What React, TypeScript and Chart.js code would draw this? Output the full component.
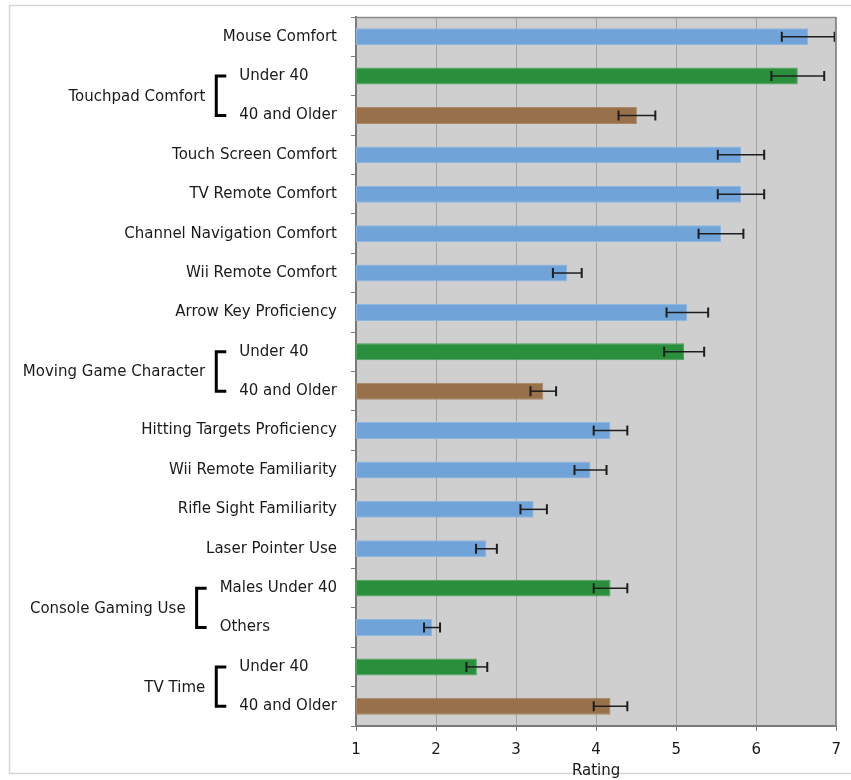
import { useEffect, useRef } from 'react';
import { Chart, registerables } from 'chart.js';

Chart.register(...registerables);

const categories = [
  'Mouse Comfort',
  'Under 40',
  '40 and Older',
  'Touch Screen Comfort',
  'TV Remote Comfort',
  'Channel Navigation Comfort',
  'Wii Remote Comfort',
  'Arrow Key Proficiency',
  'Under 40',
  '40 and Older',
  'Hitting Targets Proficiency',
  'Wii Remote Familiarity',
  'Rifle Sight Familiarity',
  'Laser Pointer Use',
  'Males Under 40',
  'Others',
  'Under 40',
  '40 and Older',
];

const groups = [
  '',
  'Touchpad Comfort',
  'Touchpad Comfort',
  '',
  '',
  '',
  '',
  '',
  'Moving Game Character',
  'Moving Game Character',
  '',
  '',
  '',
  '',
  'Console Gaming Use',
  'Console Gaming Use',
  'TV Time',
  'TV Time',
];

const cohorts = [
  'all', 'under40', 'older', 'all', 'all', 'all', 'all', 'all', 'under40', 'older',
  'all', 'all', 'all', 'all', 'under40', 'all', 'under40', 'older',
];

const ratings = [6.65, 6.52, 4.51, 5.81, 5.81, 5.56, 3.64, 5.14, 5.1, 3.34, 4.18, 3.93, 3.22, 2.63, 4.18, 1.95, 2.51, 4.18];
const errors = [0.33, 0.33, 0.23, 0.29, 0.29, 0.28, 0.18, 0.26, 0.25, 0.16, 0.21, 0.2, 0.165, 0.13, 0.21, 0.1, 0.13, 0.21];

const xMin = 1;
const xMax = 7;
const axisTitle = 'Rating';

const COLORS: Record<string, string> = { all: '#70a4d9', under40: '#2a8f3d', older: '#98714a' };
const BORDERS: Record<string, string> = { all: '#8db6e0', under40: '#4ea05c', older: '#a8876a' };
const FONT = '"DejaVu Sans", Verdana, sans-serif';

const customPlugin = {
  id: 'customDecor',
  beforeDraw(chart: any) {
    const { ctx, chartArea: a } = chart;
    ctx.save();
    ctx.strokeStyle = '#d6d6d6';
    ctx.lineWidth = 1.5;
    ctx.beginPath();
    ctx.moveTo(860, 5.5);
    ctx.lineTo(9.5, 5.5);
    ctx.lineTo(9.5, 773.5);
    ctx.lineTo(860, 773.5);
    ctx.stroke();
    ctx.fillStyle = '#cfcfcf';
    ctx.fillRect(a.left, a.top, a.right - a.left, a.bottom - a.top);
    ctx.restore();
  },
  afterDatasetsDraw(chart: any) {
    const { ctx } = chart;
    const xs = chart.scales.x;
    const meta = chart.getDatasetMeta(0);
    ctx.save();
    ctx.strokeStyle = '#1e1e1e';
    meta.data.forEach((el: any, i: number) => {
      const y = el.y;
      const x1 = xs.getPixelForValue(ratings[i] - errors[i]);
      const x2 = xs.getPixelForValue(ratings[i] + errors[i]);
      ctx.lineWidth = 1.5;
      ctx.beginPath();
      ctx.moveTo(x1, y);
      ctx.lineTo(x2, y);
      ctx.stroke();
      ctx.lineWidth = 2;
      ctx.beginPath();
      ctx.moveTo(x1, y - 5);
      ctx.lineTo(x1, y + 5);
      ctx.moveTo(x2, y - 5);
      ctx.lineTo(x2, y + 5);
      ctx.stroke();
    });
    ctx.restore();
  },
  afterDraw(chart: any) {
    const { ctx, chartArea: a } = chart;
    const ys = chart.scales.y;
    ctx.save();
    ctx.strokeStyle = '#8a8a8a';
    ctx.lineWidth = 1.5;
    ctx.beginPath();
    ctx.moveTo(a.left, a.top + 0.5);
    ctx.lineTo(a.right, a.top + 0.5);
    ctx.moveTo(a.right - 0.5, a.top);
    ctx.lineTo(a.right - 0.5, a.bottom);
    ctx.stroke();

    ctx.font = `15px ${FONT}`;
    ctx.fillStyle = '#1a1a1a';
    ctx.textBaseline = 'middle';
    const right = a.left - 19;
    const done = new Set<string>();
    categories.forEach((label, i) => {
      const y = ys.getPixelForValue(i);
      const g = groups[i];
      if (!g) {
        ctx.textAlign = 'right';
        ctx.fillText(label, right, y);
        return;
      }
      if (done.has(g)) return;
      done.add(g);
      const idx = groups.map((gg, k) => (gg === g ? k : -1)).filter((k) => k >= 0);
      const maxW = Math.max(...idx.map((k) => ctx.measureText(categories[k]).width));
      const subLeft = right - maxW;
      ctx.textAlign = 'left';
      idx.forEach((k) => ctx.fillText(categories[k], subLeft, ys.getPixelForValue(k)));
      const yTop = ys.getPixelForValue(idx[0]);
      const yBot = ys.getPixelForValue(idx[idx.length - 1]);
      const bx = subLeft - 23;
      ctx.strokeStyle = '#000';
      ctx.lineWidth = 3;
      ctx.beginPath();
      ctx.moveTo(subLeft - 13, yTop);
      ctx.lineTo(bx, yTop);
      ctx.lineTo(bx, yBot);
      ctx.lineTo(subLeft - 13, yBot);
      ctx.stroke();
      ctx.textAlign = 'right';
      ctx.fillText(g, bx - 11, (yTop + yBot) / 2 + 1);
    });
    ctx.restore();
  },
};

export default function App() {
  const ref = useRef<HTMLCanvasElement | null>(null);
  useEffect(() => {
    document.body.style.margin = '0';
    const canvas = ref.current!;
    const chart = new Chart(canvas, {
      type: 'bar',
      data: {
        labels: categories,
        datasets: [
          {
            data: ratings.map((v) => [xMin, v]) as any,
            backgroundColor: cohorts.map((c) => COLORS[c]),
            borderColor: cohorts.map((c) => BORDERS[c]),
            borderWidth: 1,
            borderSkipped: false,
            barPercentage: 0.43,
            categoryPercentage: 1,
          },
        ],
      },
      options: {
        indexAxis: 'y',
        animation: false,
        responsive: false,
        devicePixelRatio: 1,
        layout: { padding: { top: 17, right: 14, left: 0, bottom: 0 } },
        plugins: { legend: { display: false }, tooltip: { enabled: false } },
        scales: {
          x: {
            type: 'linear',
            min: xMin,
            max: xMax,
            ticks: { stepSize: 1, color: '#1a1a1a', font: { family: FONT, size: 15 }, padding: 10 },
            grid: { color: '#a3a3a3', lineWidth: 1, tickLength: 5, tickColor: '#7a7a7a' },
            border: { display: true, color: '#7a7a7a', width: 2 },
            title: { display: true, text: axisTitle, color: '#1a1a1a', font: { family: FONT, size: 15 }, padding: { top: 0, bottom: 0 } },
            afterFit: (s: any) => {
              s.height = 54;
            },
          },
          y: {
            type: 'category',
            ticks: { display: false },
            grid: { display: true, drawOnChartArea: false, tickLength: 5, color: '#7a7a7a', offset: true },
            border: { display: true, color: '#7a7a7a', width: 2 },
            afterFit: (s: any) => {
              s.width = 356;
            },
          },
        } as any,
      },
      plugins: [customPlugin],
    });
    return () => chart.destroy();
  }, []);
  return <canvas ref={ref} width={851} height={780} style={{ display: 'block', width: 851, height: 780 }} />;
}
